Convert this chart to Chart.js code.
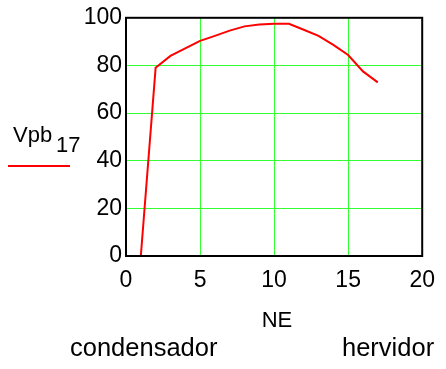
<!DOCTYPE html>
<html>
<head>
<meta charset="utf-8">
<script src="https://cdn.jsdelivr.net/npm/chart.js@4"></script>
<style>
  html, body { margin: 0; padding: 0; background: #fff; }
  #wrap { width: 446px; height: 369px; }
</style>
</head>
<body>
<div id="wrap"><canvas id="chart" width="446" height="369"></canvas></div>
<script>
// Stage numbers (NE) and Vpb_17 values
const stages = [1, 2, 3, 4, 5, 6, 7, 8, 9, 10, 11, 12, 13, 14, 15, 16, 17];
const vpb17 = [0, 79, 84, 87.2, 90.3, 92.4, 94.6, 96.4, 97.2, 97.5, 97.5, 95, 92.4, 88.6, 84.4, 77.5, 72.9];

// Axis ranges and tick spacing
const xRange = [0, 20];
const xStep = 5;
const yRange = [0, 100];
const yStep = 20;

const FONT = 'Liberation Sans, Arial, sans-serif';
const GRID_GREEN = '#33ff33';

// Frame around the plot plus the loose texts (legend, axis name, side labels)
const extras = {
    id: 'extras',
    afterDraw(chart) {
        const ctx = chart.ctx;
        const a = chart.chartArea;
        ctx.save();
        ctx.strokeStyle = '#000';
        ctx.lineWidth = 2;
        ctx.strokeRect(a.left, a.top, a.right - a.left, a.bottom - a.top);

        ctx.fillStyle = '#000';
        ctx.textBaseline = 'alphabetic';
        ctx.textAlign = 'left';
        ctx.font = '22px ' + FONT;
        ctx.fillText('Vpb', 13, 142);
        ctx.fillText('17', 56, 152);

        ctx.strokeStyle = '#ff0000';
        ctx.lineWidth = 2;
        ctx.beginPath();
        ctx.moveTo(8, 166);
        ctx.lineTo(70, 166);
        ctx.stroke();

        ctx.textAlign = 'center';
        ctx.font = '22px ' + FONT;
        ctx.fillText('NE', 277, 327);

        ctx.textAlign = 'left';
        ctx.font = '25.5px ' + FONT;
        ctx.fillText('condensador', 70, 356);
        ctx.fillText('hervidor', 342, 356);
        ctx.restore();
    }
};

new Chart(document.getElementById('chart'), {
    type: 'line',
    data: {
        datasets: [{
            label: 'Vpb17',
            data: stages.map((s, i) => ({ x: s, y: vpb17[i] })),
            borderColor: '#ff0000',
            borderWidth: 2,
            pointRadius: 0,
            tension: 0,
            fill: false
        }]
    },
    options: {
        responsive: false,
        animation: false,
        devicePixelRatio: 1,
        layout: { padding: { left: 0, top: 16, right: 23, bottom: 0 } },
        plugins: {
            legend: { display: false },
            tooltip: { enabled: false }
        },
        scales: {
            x: {
                type: 'linear',
                min: xRange[0],
                max: xRange[1],
                afterFit: (s) => { s.height = 113; },
                grid: { color: GRID_GREEN, lineWidth: 1, drawTicks: false },
                border: { display: false },
                ticks: { stepSize: xStep, color: '#000', font: { family: FONT, size: 23 }, padding: 11, maxRotation: 0 }
            },
            y: {
                type: 'linear',
                min: yRange[0],
                max: yRange[1],
                afterFit: (s) => { s.width = 126; },
                grid: { color: GRID_GREEN, lineWidth: 1, drawTicks: false },
                border: { display: false },
                ticks: { stepSize: yStep, color: '#000', font: { family: FONT, size: 23 }, padding: 4 }
            }
        }
    },
    plugins: [extras]
});
</script>
</body>
</html>
